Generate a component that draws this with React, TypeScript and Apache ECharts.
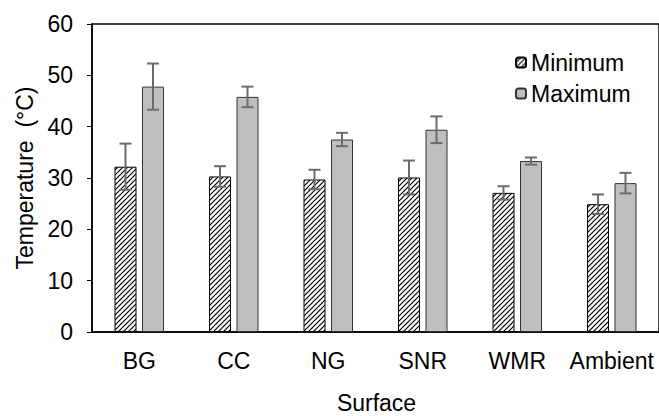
import React, { useEffect, useRef } from "react";
import * as echarts from "echarts";

const categories = ["BG", "CC", "NG", "SNR", "WMR", "Ambient"];
const minimumValues = [32.2, 30.3, 29.7, 30.1, 27.1, 24.9];
const minimumErrors = [4.5, 2.0, 1.9, 3.3, 1.3, 1.9];
const maximumValues = [47.8, 45.8, 37.5, 39.4, 33.3, 29.0];
const maximumErrors = [4.5, 2.0, 1.3, 2.6, 0.7, 2.0];
const yTicks = [0, 10, 20, 30, 40, 50, 60];

const FONT = "'Liberation Sans', Arial, sans-serif";
const FS = 23;

const hatchSvg =
  "<svg xmlns='http://www.w3.org/2000/svg' width='5' height='5'>" +
  "<rect width='5' height='5' fill='white'/>" +
  "<path d='M-1,1 L1,-1 M0,5 L5,0 M4,6 L6,4' stroke='black' stroke-width='1.2'/></svg>";
const hatchUrl = "data:image/svg+xml;charset=utf-8," + encodeURIComponent(hatchSvg);

function errorSeries(values: number[], errors: number[], offset: number) {
  return {
    type: "custom",
    silent: true,
    z: 10,
    data: values.map((v, i) => [i, v - errors[i], v + errors[i]]),
    renderItem: (params: any, api: any) => {
      const idx = api.value(0);
      const lo = api.coord([idx, api.value(1)]);
      const hi = api.coord([idx, api.value(2)]);
      const x = lo[0] + offset;
      const cap = 6;
      const style = { stroke: "#6b6b6b", lineWidth: 2 };
      return {
        type: "group",
        children: [
          { type: "line", shape: { x1: x, y1: lo[1], x2: x, y2: hi[1] }, style },
          { type: "line", shape: { x1: x - cap, y1: hi[1], x2: x + cap, y2: hi[1] }, style },
          { type: "line", shape: { x1: x - cap, y1: lo[1], x2: x + cap, y2: lo[1] }, style },
        ],
      };
    },
  };
}

export default function App() {
  const ref = useRef<HTMLDivElement>(null);
  useEffect(() => {
    if (!ref.current) return;
    const chart = echarts.init(ref.current, null, { renderer: "svg" });
    chart.setOption({
      animation: false,
      textStyle: { fontFamily: FONT },
      grid: { left: 92, top: 24, width: 574, bottom: 84, show: true, borderColor: "#000", borderWidth: 1.5, backgroundColor: "transparent" },
      legend: {
        orient: "vertical",
        left: 510,
        top: 46,
        itemWidth: 10,
        itemHeight: 10,
        itemGap: 8,
        data: ["Minimum", "Maximum"],
        textStyle: { fontSize: FS, color: "#000", fontFamily: FONT },
      },
      xAxis: {
        type: "category",
        data: categories,
        axisLine: { lineStyle: { color: "#000", width: 1.5 } },
        axisTick: { show: false },
        axisLabel: { fontSize: FS, color: "#000", margin: 17, fontFamily: FONT, interval: 0 },
      },
      yAxis: {
        type: "value",
        min: yTicks[0],
        max: yTicks[yTicks.length - 1],
        interval: 10,
        name: "Temperature  (°C)",
        nameLocation: "middle",
        nameGap: 56,
        nameTextStyle: { fontSize: FS, color: "#000", fontFamily: FONT },
        axisLine: { show: true, lineStyle: { color: "#000", width: 1.5 } },
        axisTick: { show: true, inside: false, length: 5, lineStyle: { color: "#000", width: 1 } },
        splitLine: { show: false },
        axisLabel: { fontSize: FS, color: "#000", margin: 19, fontFamily: FONT },
      },
      graphic: [
        {
          type: "text",
          x: 376.5,
          y: 403,
          style: { text: "Surface", fontSize: FS, fill: "#000", fontFamily: FONT, align: "center", verticalAlign: "middle" },
        },
      ],
      series: [
        {
          name: "Minimum",
          type: "bar",
          data: minimumValues,
          barWidth: 22,
          barGap: "25%",
          itemStyle: {
            color: { image: hatchUrl, repeat: "repeat", imageWidth: 5, imageHeight: 5 },
            borderColor: "#000",
            borderWidth: 1,
          },
        },
        {
          name: "Maximum",
          type: "bar",
          data: maximumValues,
          barWidth: 22,
          barGap: "25%",
          itemStyle: { color: "#bfbfbf", borderColor: "#333", borderWidth: 1 },
        },
        errorSeries(minimumValues, minimumErrors, -13.75),
        errorSeries(maximumValues, maximumErrors, 13.75),
      ],
    });
    return () => chart.dispose();
  }, []);
  return <div ref={ref} style={{ width: 659, height: 416, position: "absolute", left: 0, top: 0 }} />;
}
